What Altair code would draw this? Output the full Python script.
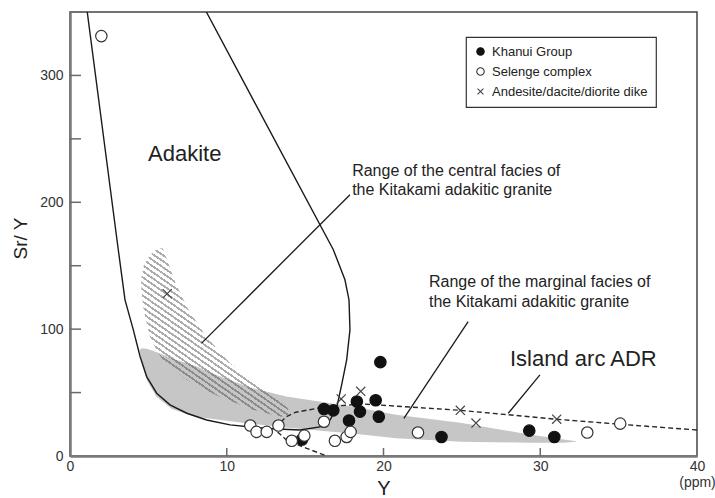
import altair as alt
import pandas as pd

FONT = "Liberation Sans"
INK = "#222222"

# --- sample analyses: Y (ppm) and Sr/Y --------------------------------------
series_names = ["Khanui Group", "Selenge complex", "Andesite/dacite/diorite dike"]

khanui_y = [14.8, 16.2, 16.8, 17.8, 18.3, 18.5, 19.5, 19.7, 19.8, 23.7, 29.3, 30.9]
khanui_sry = [13, 37, 36, 28, 43, 35, 44, 31, 74, 15, 20, 15]

selenge_y = [2.0, 11.5, 11.9, 12.55, 13.3, 14.15, 14.95, 16.2, 16.9, 17.65, 17.9, 22.2, 33.0, 35.1]
selenge_sry = [331, 24, 19, 19, 24, 12, 16, 27, 12, 15, 19, 18.5, 18.5, 25.5]

dike_y = [6.2, 17.3, 18.55, 24.9, 25.9, 31.05]
dike_sry = [128, 45, 51, 36, 26, 29]

# --- Adakite field boundary (open curve, both arms leave the top) ----------
adakite_y = [1.1, 3.08, 3.51, 4.04, 4.47, 4.89, 5.53, 6.38, 7.45, 8.72, 10.21, 12.55,
             14.67, 15.95, 16.59, 17.01, 17.33, 17.65, 17.86, 17.8, 17.54, 16.8, 8.7]
adakite_sry = [350, 162.6, 123.1, 99.4, 78.4, 62.6, 49.5, 40.3, 33.7, 28.4, 24.5, 21.7,
               20.5, 22.9, 28.4, 37.9, 56, 75.8, 99.4, 123, 138.9, 162.6, 350]

# --- Island arc ADR field (dashed) -------------------------------------------
adr_y = [40, 35.1, 31, 24.9, 18.7, 16.3, 15.3, 14.4, 13.8, 13.4, 13.2, 13.8, 15.1, 16.4]
adr_sry = [20.5, 25, 29, 36, 41, 38.8, 36.5, 34.5, 31, 26, 19.5, 12.6, 6, 0]

# --- marginal facies range (grey band) ---------------------------------------
marg_y = [4.45, 4.6, 4.9, 5.5, 6.5, 8.0, 9.5, 11.5, 13.8, 16.0, 18.0, 20.8, 25.0, 29.3, 31.5, 32.3]
marg_top = [84, 85, 84.5, 82, 77, 71, 63, 54, 47, 42.7, 39, 32.5, 26, 17, 13, 11.6]
marg_bot = [83, 73, 60, 47, 37, 31, 28.5, 25.5, 22.5, 20, 17.8, 14, 11.3, 10.5, 10.5, 11.2]

# --- central facies range (hatched band) -------------------------------------
cent_y = [4.55, 4.7, 5.1, 5.5, 5.9, 6.25, 6.7, 7.45, 8.6, 9.6, 10.2, 11.7, 12.1, 13.4, 13.85, 14.05]
cent_top = [140, 150, 158.6, 162.5, 164, 153, 137.3, 117.6, 95.5, 81.5, 73.4, 58.5, 54.7, 43, 38.5, 34]
cent_bot = [132, 115, 94, 84, 76, 72, 67, 60, 52, 46.5, 43.5, 36.3, 35, 31, 32, 34]

# --- leader lines from the labels to the fields ------------------------------
lead_x = [17.86, 25.4, 29.98]
lead_y = [206, 106, 63.9]
lead_x2 = [8.4, 21.3, 27.96]
lead_y2 = [89, 29.7, 33.7]

# --- annotations ---------------------------------------------------------------
ann_text = ["Adakite",
            "Range of the central facies of", "the Kitakami adakitic granite",
            "Range of the marginal facies of", "the Kitakami adakitic granite",
            "Island arc ADR"]
ann_x = [4.98, 18.0, 18.0, 22.9, 22.9, 28.07]
ann_y = [232.3, 221, 205.6, 133.1, 117.8, 71]
ann_size = [22, 16, 16, 16, 16, 22]

# axis tick positions
x_label_values = [0, 10, 20, 30, 40]
y_label_values = [0, 100, 200, 300]
x_tick_values = [10, 20, 30]
y_tick_values = [50, 100, 150, 200, 250, 300]

# ----------------------------------------------------------------------------
W, H = 627, 444

xscale = alt.Scale(domain=[0, 40], nice=False, zero=False)
yscale = alt.Scale(domain=[0, 350], nice=False, zero=False)

xaxis = alt.Axis(values=x_label_values, ticks=False, grid=False,
                 domainColor="#7a7a7a", domainWidth=2.5,
                 labelFont=FONT, labelFontSize=14, labelColor="#333333",
                 labelPadding=3, labelFlush=False, labelOverlap=False,
                 labelExpr="datum.value == 40 ? ['40', '(ppm)'] : datum.label",
                 labelLineHeight=16,
                 title="Y", titleFont=FONT, titleFontSize=20, titleFontWeight="normal",
                 titleColor=INK, titleBaseline="alphabetic", titleY=38)
yaxis = alt.Axis(values=y_label_values, ticks=False, grid=False,
                 domainColor="#7a7a7a", domainWidth=2.5,
                 labelFont=FONT, labelFontSize=14, labelColor="#333333",
                 labelPadding=7, labelOverlap=False,
                 title="Sr/ Y", titleFont=FONT, titleFontSize=19, titleFontWeight="normal",
                 titleColor=INK, titleX=-40, titleY=226)


def X(field):
    return alt.X(field, type="quantitative", scale=xscale, axis=xaxis)


def Y(field):
    return alt.Y(field, type="quantitative", scale=yscale, axis=yaxis)


marg_df = pd.DataFrame({"x": marg_y, "top": marg_top, "bot": marg_bot})
cent_df = pd.DataFrame({"x": cent_y, "top": cent_top, "bot": cent_bot})
adakite_df = pd.DataFrame({"x": adakite_y, "y": adakite_sry, "i": range(len(adakite_y))})
adr_df = pd.DataFrame({"x": adr_y, "y": adr_sry, "i": range(len(adr_y))})
lead_df = pd.DataFrame({"x": lead_x, "y": lead_y, "x2": lead_x2, "y2": lead_y2})
ann_df = pd.DataFrame({"x": ann_x, "y": ann_y, "t": ann_text, "s": ann_size})

pts = pd.concat([
    pd.DataFrame({"x": khanui_y, "y": khanui_sry, "series": series_names[0]}),
    pd.DataFrame({"x": selenge_y, "y": selenge_sry, "series": series_names[1]}),
    pd.DataFrame({"x": dike_y, "y": dike_sry, "series": series_names[2]}),
], ignore_index=True)

# grey band
marg = alt.Chart(marg_df).mark_area(color="#c6c6c6", clip=True).encode(
    x=X("x"), y=Y("top"), y2="bot")

# hatched band: striped linear gradient
STRIPE = "rgba(70,70,70,0.45)"
CLEAR = "rgba(255,255,255,0)"
n_stripes = 45
stops = []
for k in range(n_stripes):
    a = k / n_stripes
    b = (k + 0.38) / n_stripes
    c = (k + 1) / n_stripes
    stops += [alt.GradientStop(color=STRIPE, offset=a),
              alt.GradientStop(color=STRIPE, offset=b),
              alt.GradientStop(color=CLEAR, offset=b),
              alt.GradientStop(color=CLEAR, offset=c)]
hatch_fill = alt.LinearGradient(gradient="linear", stops=stops,
                                x1=0, y1=1, x2=0.72, y2=-0.17)
cent = alt.Chart(cent_df).mark_area(color=hatch_fill, clip=True).encode(
    x=X("x"), y=Y("top"), y2="bot")

adakite = alt.Chart(adakite_df).mark_line(color="#1a1a1a", strokeWidth=1.4, clip=True).encode(
    x=X("x"), y=Y("y"), order="i:Q")

adr = alt.Chart(adr_df).mark_line(color="#2a2a2a", strokeWidth=1.4, strokeDash=[5, 3], clip=True).encode(
    x=X("x"), y=Y("y"), order="i:Q")

leaders = alt.Chart(lead_df).mark_rule(color="#1a1a1a", strokeWidth=1.3).encode(
    x=X("x"), y=Y("y"), x2="x2", y2="y2")

# inward ticks along both axes
ytick_df = pd.DataFrame({"v": y_tick_values})
xtick_df = pd.DataFrame({"v": x_tick_values})
yticks = alt.Chart(ytick_df).mark_rule(color="#6a6a6a", strokeWidth=1.5).encode(
    y=Y("v"), x=alt.value(0), x2=alt.value(11))
xticks = alt.Chart(xtick_df).mark_rule(color="#6a6a6a", strokeWidth=1.5).encode(
    x=X("v"), y=alt.value(H), y2=alt.value(H - 8))

points = alt.Chart(pts).mark_point(opacity=1, strokeWidth=1.2, size=130).encode(
    x=X("x"), y=Y("y"),
    shape=alt.Shape("series:N", scale=alt.Scale(
        domain=series_names,
        range=["circle", "circle", "M-0.8,-0.8L0.8,0.8M-0.8,0.8L0.8,-0.8"]),
        legend=alt.Legend(title=None)),
    fill=alt.Fill("series:N", scale=alt.Scale(
        domain=series_names, range=["#111111", "#ffffff", CLEAR]),
        legend=alt.Legend(title=None)),
    stroke=alt.Stroke("series:N", scale=alt.Scale(
        domain=series_names, range=["#111111", "#333333", "#444444"]),
        legend=alt.Legend(title=None)),
)

labels = alt.Chart(ann_df).mark_text(align="left", baseline="alphabetic", font=FONT,
                                     color=INK).encode(
    x=X("x"), y=Y("y"), text="t:N", size=alt.Size("s:Q", scale=None))

chart = alt.layer(marg, cent, adakite, adr, leaders, yticks, xticks, points, labels).properties(
    width=W, height=H,
    autosize="none",
    padding={"left": 70, "top": 12, "right": 18, "bottom": 42},
).configure_view(
    stroke="#444444", strokeWidth=1.5
).configure_legend(
    orient="none", legendX=396, legendY=25,
    padding=8, strokeColor="#333333", fillColor="#ffffff", strokeWidth=1.2,
    labelFont=FONT, labelFontSize=13, labelColor=INK, labelLimit=300,
    symbolSize=55, symbolStrokeWidth=1.1, rowPadding=6, labelOffset=5,
)

chart.save("out.html", embed_options={"renderer": "svg", "actions": False})
